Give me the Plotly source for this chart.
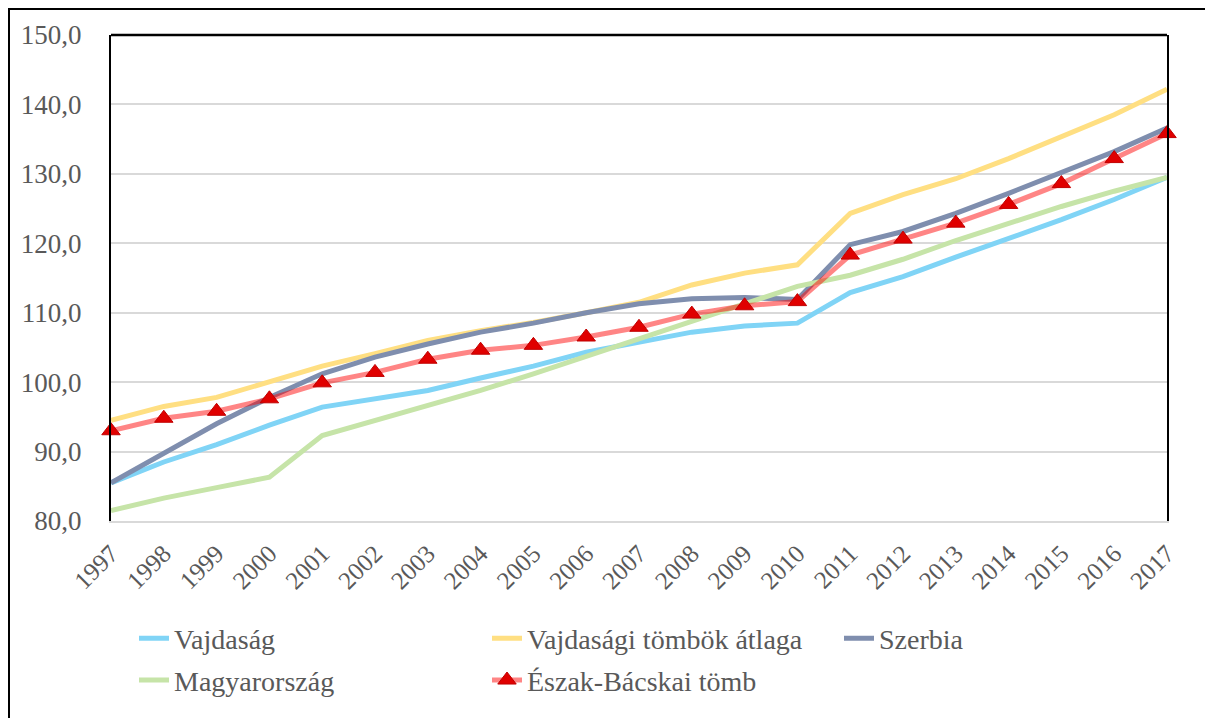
import plotly.graph_objects as go

years = list(range(1997, 2018))

vajdasag = [85.5, 88.5, 91.0, 93.8, 96.4, 97.6, 98.8, 100.6, 102.3, 104.3, 105.8, 107.2, 108.1, 108.5,
            112.9, 115.2, 118.0, 120.7, 123.4, 126.3, 129.5]
vajdasagi_tombok = [94.5, 96.5, 97.8, 100.0, 102.3, 104.1, 106.0, 107.4, 108.6, 110.0, 111.5, 114.0, 115.7, 116.9,
                    124.3, 127.0, 129.3, 132.2, 135.3, 138.5, 142.2]
szerbia = [85.5, 89.8, 94.0, 97.8, 101.2, 103.6, 105.5, 107.2, 108.5, 110.0, 111.3, 112.0, 112.2, 111.9,
           119.8, 121.7, 124.3, 127.2, 130.2, 133.2, 136.6]
magyarorszag = [81.5, 83.3, 84.8, 86.3, 92.3, 94.5, 96.6, 98.8, 101.2, 103.7, 106.2, 108.8, 111.3, 113.8,
                115.4, 117.7, 120.4, 122.9, 125.3, 127.5, 129.5]
eszak_bacskai = [93.0, 94.8, 95.8, 97.6, 99.9, 101.4, 103.3, 104.6, 105.3, 106.5, 107.9, 109.8, 111.0, 111.6,
                 118.3, 120.6, 122.9, 125.6, 128.6, 132.2, 135.8]

names = ["Vajdaság", "Vajdasági tömbök átlaga", "Szerbia", "Magyarország", "Észak-Bácskai tömb"]
colors = ["#80d4f6", "#ffdf82", "#7f8eae", "#c6e4a8", "rgba(255,0,0,0.48)"]

FONT = "Liberation Serif"
TXT = "#595959"

OFF = 8  # page body margin
W, H = 1213 - OFF, 718 - OFF
L, R, T, B = 111 - OFF, 46, 35 - OFF, 195
PW, PH = W - L - R, H - T - B


def px_x(p):
    return (p - OFF - L) / PW


def px_y(p):
    return (H - B - (p - OFF)) / PH


fig = go.Figure()
series = [vajdasag, vajdasagi_tombok, szerbia, magyarorszag]
legend_ids = ["legend", "legend2", "legend3", "legend4"]
for i, s in enumerate(series):
    fig.add_trace(go.Scatter(
        x=years, y=s, name=names[i], mode="lines",
        line=dict(color=colors[i], width=5),
        legend=legend_ids[i], cliponaxis=False,
    ))

fig.add_trace(go.Scatter(
    x=years, y=eszak_bacskai, name=names[4], mode="lines+markers",
    line=dict(color=colors[4], width=5),
    marker=dict(symbol="triangle-up", size=16, color="#e00000",
                line=dict(color="#c00000", width=1)),
    legend="legend5", cliponaxis=False,
))

legend_common = dict(font=dict(family=FONT, size=28, color=TXT), bgcolor="rgba(0,0,0,0)",
                     xanchor="left", yanchor="middle", borderwidth=0)
leg_pos = {
    "legend": (134, 641),
    "legend2": (487, 641),
    "legend3": (839, 641),
    "legend4": (134, 683),
    "legend5": (487, 683),
}
layout_legends = {k: dict(x=px_x(v[0]), y=px_y(v[1]), **legend_common) for k, v in leg_pos.items()}

fig.update_layout(
    width=W, height=H,
    margin=dict(l=L, r=R, t=T, b=B),
    paper_bgcolor="white", plot_bgcolor="white",
    separators=", ",
    showlegend=True,
    font=dict(family=FONT, color=TXT),
    **layout_legends,
)

fig.update_xaxes(
    range=[1997, 2017], tickmode="array", tickvals=years, ticktext=[str(y) for y in years],
    tickangle=-45, tickfont=dict(family=FONT, size=25, color=TXT),
    showgrid=False, zeroline=False,
    showline=True, linecolor="#d9d9d9", linewidth=2, ticks="", ticklabelstandoff=6,
)
fig.update_yaxes(
    range=[80, 150], dtick=10, tickformat=".1f",
    tickfont=dict(family=FONT, size=27, color=TXT),
    showgrid=True, gridcolor="#d9d9d9", gridwidth=2, zeroline=False,
    showline=True, linecolor="black", linewidth=2, mirror=True, ticks="", ticklabelstandoff=22,
)

# top frame of plot area
fig.add_shape(type="line", xref="paper", yref="paper", x0=0, x1=1, y0=1, y1=1,
              line=dict(color="black", width=2.5))
# outer chart border (left and top visible)
fig.add_shape(type="rect", xref="paper", yref="paper",
              x0=px_x(9), x1=px_x(1230), y0=px_y(740), y1=px_y(9),
              line=dict(color="black", width=2), layer="above")

fig.write_html("out.html")
